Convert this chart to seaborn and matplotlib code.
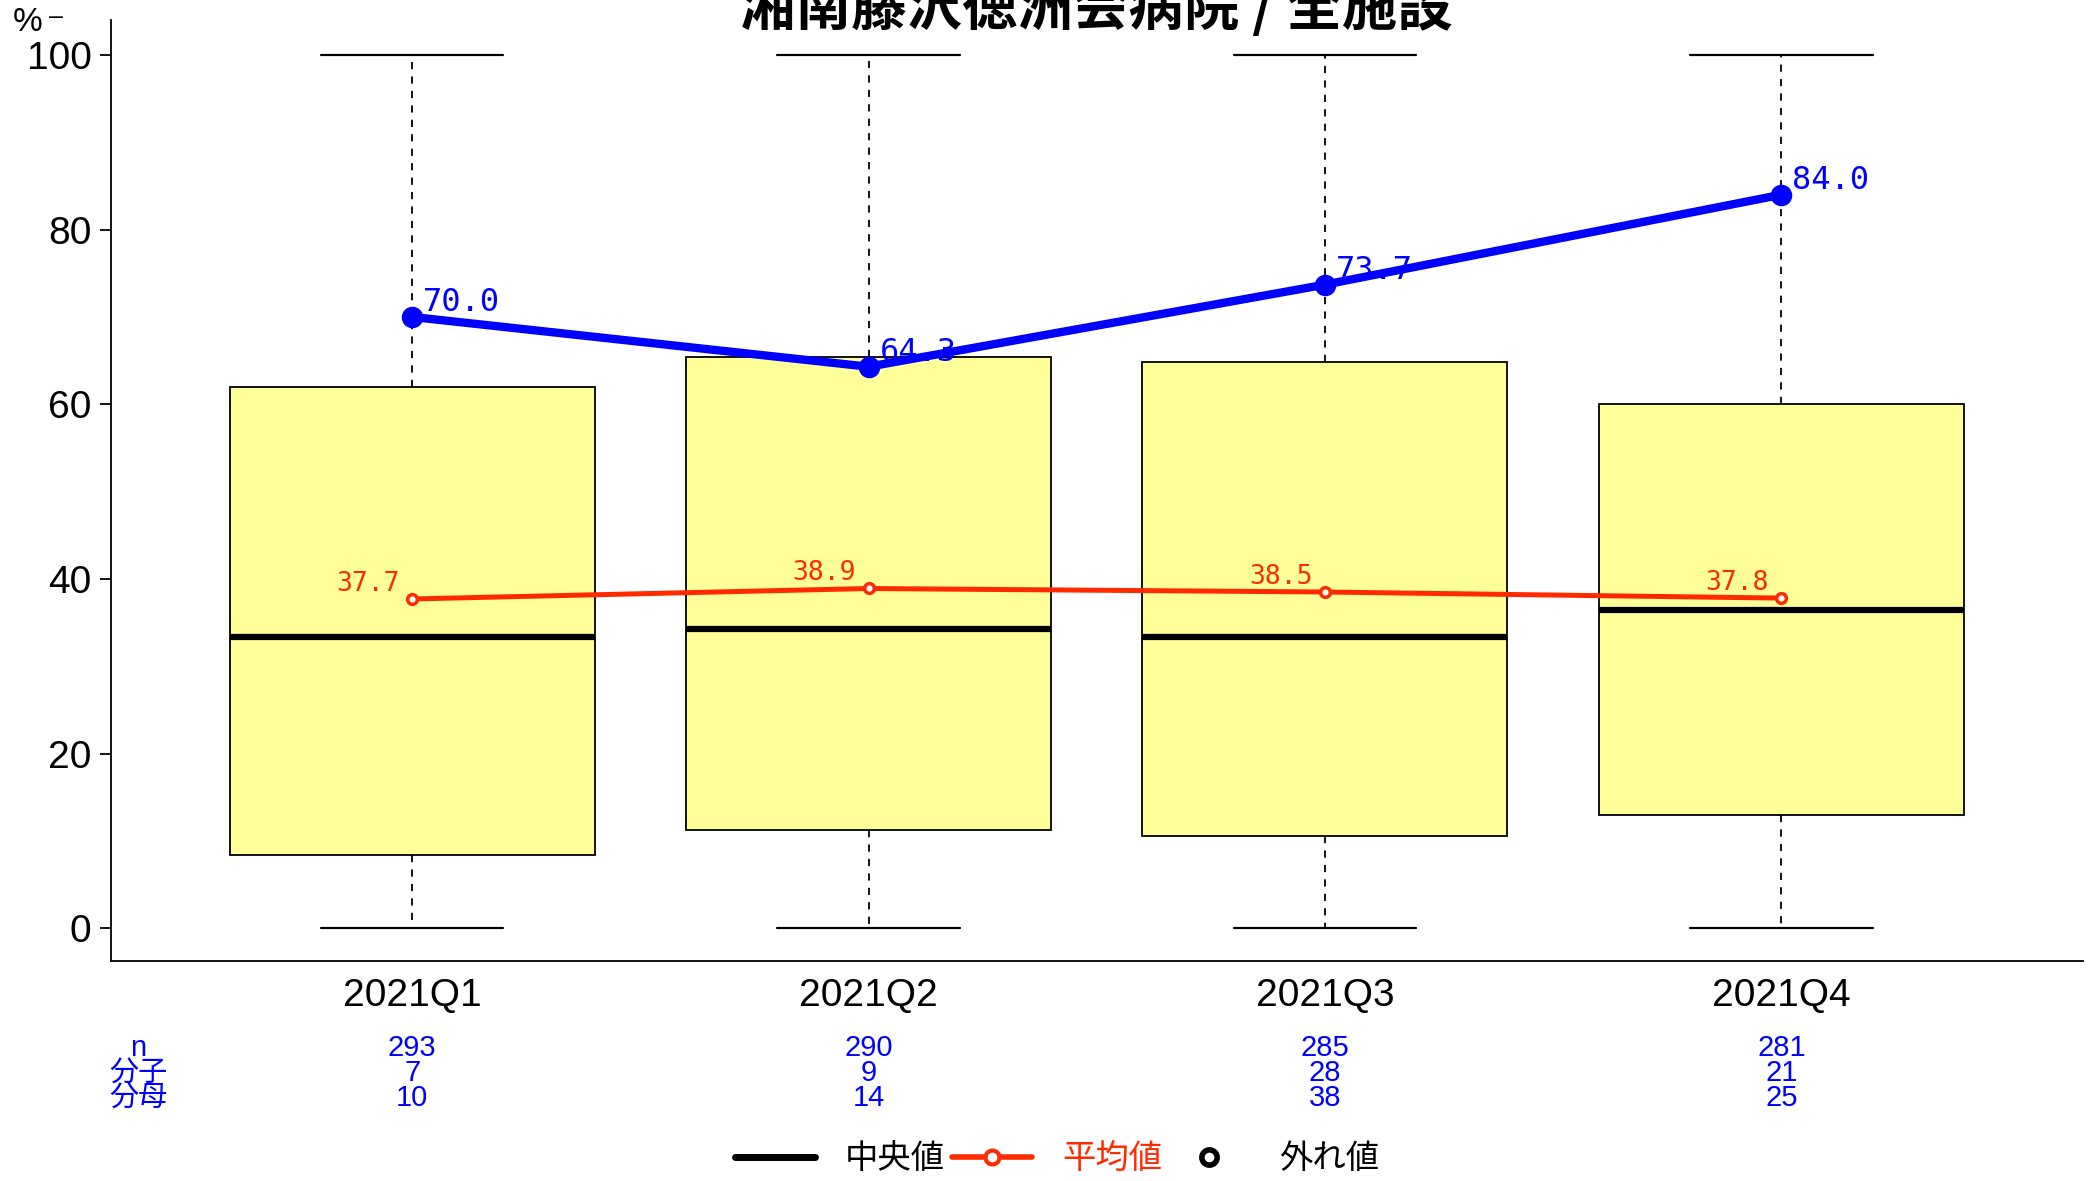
import numpy as np
import pandas as pd
import seaborn as sns
import matplotlib.pyplot as plt
from matplotlib.lines import Line2D
from matplotlib import transforms

quarters = ['2021Q1', '2021Q2', '2021Q3', '2021Q4']
box_min = [0, 0, 0, 0]
box_q1 = [8.4, 11.2, 10.6, 13.0]
box_med = [33.4, 34.3, 33.4, 36.4]
box_q3 = [62.0, 65.4, 64.8, 60.0]
box_max = [100, 100, 100, 100]
hospital = [70.0, 64.3, 73.7, 84.0]
mean_vals = [37.7, 38.9, 38.5, 37.8]
n_vals = [293, 290, 285, 281]
numer = [7, 9, 28, 21]
denom = [10, 14, 38, 25]
title = '湘南藤沢徳洲会病院 / 全施設'

blue = '#0000FF'
red = '#FF2A00'

sns.set_style('ticks')
plt.rcParams['font.family'] = ['Liberation Sans', 'Noto Sans CJK JP', 'DejaVu Sans']
plt.rcParams['text.color'] = 'black'
plt.rcParams['xtick.color'] = 'black'
plt.rcParams['ytick.color'] = 'black'
plt.rcParams['axes.edgecolor'] = 'black'

# five-number summary as long form so seaborn's boxplot gets exactly these quartiles
rows = []
for i, q in enumerate(quarters):
    for v in [box_min[i], box_q1[i], box_med[i], box_q3[i], box_max[i]]:
        rows.append({'quarter': q, 'value': v})
df = pd.DataFrame(rows)

fig = plt.figure(figsize=(20.93, 11.81), dpi=100)
ax = fig.add_axes([0.053, 0.186, 0.942, 0.797])

sns.boxplot(data=df, x='quarter', y='value', order=quarters, ax=ax,
            color='#FFFF99', saturation=1, width=0.8, whis=(0, 100),
            showfliers=False, linecolor='black', linewidth=1.3,
            whiskerprops=dict(linestyle=(0, (4, 4)), linewidth=1.3),
            capprops=dict(linewidth=1.6),
            medianprops=dict(color='black', linewidth=4.5))

sns.pointplot(x=quarters, y=hospital, order=quarters, ax=ax, color=blue,
              errorbar=None, markers='o', linewidth=6, markersize=11)
sns.pointplot(x=quarters, y=mean_vals, order=quarters, ax=ax, color=red,
              errorbar=None, markers='o', linewidth=3.6, markersize=7,
              markerfacecolor='white', markeredgecolor=red, markeredgewidth=2.5)

for i in range(len(quarters)):
    ax.annotate(f'{hospital[i]:.1f}', (i, hospital[i]), xytext=(8, 4),
                textcoords='offset points', ha='left', va='baseline',
                color=blue, fontsize=23, family='DejaVu Sans Mono')
    ax.annotate(f'{mean_vals[i]:.1f}', (i, mean_vals[i]), xytext=(-9, 6),
                textcoords='offset points', ha='right', va='baseline',
                color=red, fontsize=19, family='DejaVu Sans Mono')

ax.set_xlim(-0.66, 3.66)
ax.set_ylim(-3.8, 104)
ax.set_yticks([0, 20, 40, 60, 80, 100])
ax.tick_params(axis='y', labelsize=28, length=8, width=1.3, pad=6, colors='black')
ax.tick_params(axis='x', labelsize=28, length=0, pad=12, colors='black')
ax.set_xlabel('')
ax.set_ylabel('')
sns.despine(ax=ax)
for s in ['left', 'bottom']:
    ax.spines[s].set_linewidth(1.3)
    ax.spines[s].set_color('black')

fig.text(0.006, 0.981, '%', fontsize=24, va='center', ha='left')
fig.text(0.0235, 0.986, '–', fontsize=18, va='center', ha='left')

fig.text(0.524, 0.979, title, fontsize=40, fontweight='bold', ha='center',
         va='baseline', family=['Noto Sans CJK JP', 'DejaVu Sans'])

# n / 分子 / 分母 table under the axis
tr = transforms.blended_transform_factory(ax.transData, fig.transFigure)
row_y = [0.1126, 0.0918, 0.0703]
for lab, yy in zip(['n', '分子', '分母'], row_y):
    fig.text(0.066, yy, lab, fontsize=21, color=blue, ha='center', va='center')
for i in range(len(quarters)):
    for vals, yy in zip([n_vals, numer, denom], row_y):
        ax.text(i, yy, str(vals[i]), transform=tr, fontsize=21, color=blue,
                ha='center', va='center', clip_on=False)

handles = [Line2D([], [], color='black', linewidth=5),
           Line2D([], [], color=red, linewidth=4, marker='o', markersize=10,
                  markerfacecolor='white', markeredgecolor=red, markeredgewidth=3),
           Line2D([], [], linestyle='none', marker='o', markersize=11,
                  markerfacecolor='white', markeredgecolor='black', markeredgewidth=4)]
leg = fig.legend(handles, ['中央値', '平均値', '外れ値'], loc='center',
                 bbox_to_anchor=(0.505, 0.018), ncol=3, frameon=False,
                 fontsize=24, handlelength=2.4, columnspacing=0.2, handletextpad=0.9)
for t, c in zip(leg.get_texts(), ['black', red, 'black']):
    t.set_color(c)

fig.savefig('out.png', dpi=100)
